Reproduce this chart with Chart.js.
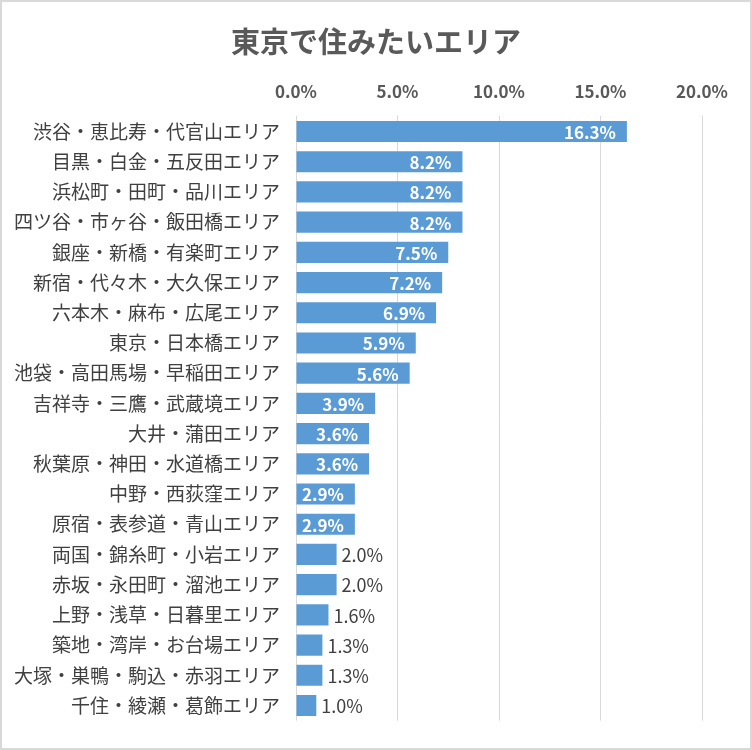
<!DOCTYPE html>
<html lang="ja">
<head>
<meta charset="utf-8">
<script src="https://cdn.jsdelivr.net/npm/chart.js@4/dist/chart.umd.min.js"></script>
<style>
  body { margin: 0; background: #fff; }
  #wrap { width: 752px; height: 750px; box-sizing: border-box; border: 2px solid #d9d9d9; }
</style>
</head>
<body>
<div id="wrap"><canvas id="chart" width="748" height="746"></canvas></div>
<script>
const areas = [
  "渋谷・恵比寿・代官山エリア",
  "目黒・白金・五反田エリア",
  "浜松町・田町・品川エリア",
  "四ツ谷・市ヶ谷・飯田橋エリア",
  "銀座・新橋・有楽町エリア",
  "新宿・代々木・大久保エリア",
  "六本木・麻布・広尾エリア",
  "東京・日本橋エリア",
  "池袋・高田馬場・早稲田エリア",
  "吉祥寺・三鷹・武蔵境エリア",
  "大井・蒲田エリア",
  "秋葉原・神田・水道橋エリア",
  "中野・西荻窪エリア",
  "原宿・表参道・青山エリア",
  "両国・錦糸町・小岩エリア",
  "赤坂・永田町・溜池エリア",
  "上野・浅草・日暮里エリア",
  "築地・湾岸・お台場エリア",
  "大塚・巣鴨・駒込・赤羽エリア",
  "千住・綾瀬・葛飾エリア"
];
const shares = [16.3, 8.2, 8.2, 8.2, 7.5, 7.2, 6.9, 5.9, 5.6, 3.9, 3.6, 3.6, 2.9, 2.9, 2.0, 2.0, 1.6, 1.3, 1.3, 1.0];
const axisMax = 20;
const axisStep = 5;
const chartTitle = "東京で住みたいエリア";

const FONT = "'Noto Sans CJK JP', 'Noto Sans', sans-serif";

// title centred on the whole canvas (the built-in one centres on the padded box)
const centredTitle = {
  id: "centredTitle",
  afterDraw(chart) {
    const ctx = chart.ctx;
    ctx.save();
    ctx.font = "bold 29px " + FONT;
    ctx.fillStyle = "#595959";
    ctx.textAlign = "center";
    ctx.textBaseline = "middle";
    ctx.fillText(chartTitle, chart.width / 2, 40);
    ctx.restore();
  }
};

// value labels: white inside the longer bars, dark just past the short ones
const barLabels = {
  id: "barLabels",
  afterDatasetsDraw(chart) {
    const ctx = chart.ctx;
    const meta = chart.getDatasetMeta(0);
    ctx.save();
    ctx.textBaseline = "middle";
    meta.data.forEach((bar, i) => {
      const v = shares[i];
      const txt = v.toFixed(1) + "%";
      if (v > 2.5) {
        ctx.font = "bold 17px " + FONT;
        ctx.fillStyle = "#ffffff";
        ctx.textAlign = "right";
        ctx.fillText(txt, bar.x - 11, bar.y + 1);
      } else {
        ctx.font = "18px " + FONT;
        ctx.fillStyle = "#404040";
        ctx.textAlign = "left";
        ctx.fillText(txt, bar.x + 5, bar.y + 1);
      }
    });
    ctx.restore();
  }
};

new Chart(document.getElementById("chart"), {
  type: "bar",
  data: {
    labels: areas,
    datasets: [{
      data: shares,
      backgroundColor: "#5b9bd5",
      barPercentage: 0.7,
      categoryPercentage: 1.0
    }]
  },
  options: {
    indexAxis: "y",
    responsive: false,
    animation: false,
    devicePixelRatio: 1,
    layout: { padding: { left: 0, right: 48, top: 64, bottom: 8 } },
    plugins: {
      legend: { display: false },
      tooltip: { enabled: false },
      title: { display: false }
    },
    scales: {
      x: {
        position: "top",
        min: 0,
        max: axisMax,
        ticks: {
          stepSize: axisStep,
          padding: 15,
          color: "#595959",
          font: { family: FONT, size: 17, weight: "bold" },
          callback: (v) => v.toFixed(1) + "%"
        },
        grid: { color: "#d9d9d9", drawTicks: false },
        border: { display: false }
      },
      y: {
        afterFit: (s) => { s.width = 294; },
        ticks: {
          padding: 16,
          color: "#404040",
          font: { family: FONT, size: 19 }
        },
        grid: { display: false, drawTicks: false },
        border: { display: false }
      }
    }
  },
  plugins: [barLabels, centredTitle]
});
</script>
</body>
</html>
